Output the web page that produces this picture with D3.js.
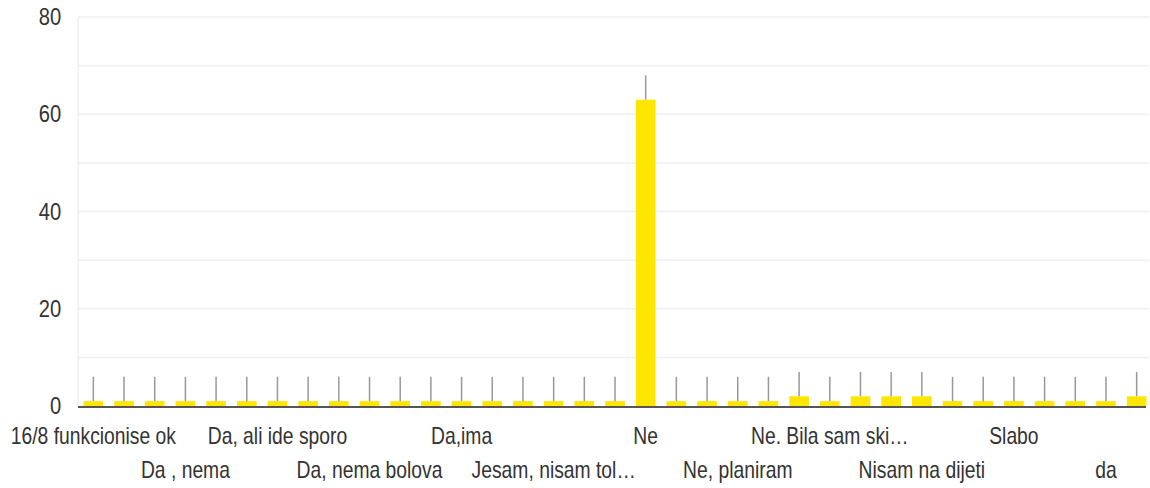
<!DOCTYPE html>
<html>
<head>
<meta charset="utf-8">
<script src="https://cdn.jsdelivr.net/npm/d3@7"></script>
<style>
  body { margin: 0; background: #fff; }
  text { font-family: "Liberation Sans", Arial, sans-serif; fill: #333; }
</style>
</head>
<body>
<div id="chart"></div>
<script>
// answers (sorted), only every 3rd one gets a label
const categories = [
  "16/8 funkcionise ok", "Bez promjene", "Da", "Da , nema", "Da, ali bez promjena",
  "Da, ali ide polako", "Da, ali ide sporo", "Da, bolje se osjecam", "Da, manje gladi",
  "Da, nema bolova", "Da, osjecam se bolje", "Da, smrsala sam", "Da,ima", "Djelimicno",
  "Imam", "Jesam, nisam tol…", "Jos ne znam", "Malo", "Ne", "Ne jos", "Ne znam",
  "Ne, planiram", "Ne, pocinjem", "Ne, tek sam pocela", "Ne. Bila sam ski…", "Nema",
  "Nisam", "Nisam na dijeti", "Nisam sigurna", "Polako", "Slabo", "Vidjet cemo",
  "Zadovoljna sam", "da", "ne"
];
const counts = [
  1, 1, 1, 1, 1, 1, 1, 1, 1, 1, 1, 1, 1, 1, 1, 1, 1, 1,
  63, 1, 1, 1, 1, 2, 1, 2, 2, 2, 1, 1, 1, 1, 1, 1, 2
];
const errors = [
  5, 5, 5, 5, 5, 5, 5, 5, 5, 5, 5, 5, 5, 5, 5, 5, 5, 5,
  5, 5, 5, 5, 5, 5, 5, 5, 5, 5, 5, 5, 5, 5, 5, 5, 5
];
const yTicks = [0, 20, 40, 60, 80];
const gridTicks = [10, 20, 30, 40, 50, 60, 70, 80];

const w = 1150, h = 488;
const padL = 78, padR = 1152, padT = 17, padB = 406;
const squeeze = 0.84; // text in the picture is narrow

const svg = d3.select("#chart").append("svg")
  .attr("width", w)
  .attr("height", h);

const x = d3.scaleBand()
  .domain(categories)
  .range([padL, padR])
  .paddingInner(0.36)
  .paddingOuter(0.18);

const y = d3.scaleLinear()
  .domain([0, 80])
  .range([padB, padT]);

// grid
svg.append("g")
  .selectAll("line")
  .data(gridTicks)
  .enter()
  .append("line")
  .attr("x1", padL)
  .attr("x2", 1149)
  .attr("y1", d => y(d))
  .attr("y2", d => y(d))
  .attr("stroke", "#efefef")
  .attr("stroke-width", 1.5);

svg.append("line")
  .attr("x1", padL).attr("x2", padL)
  .attr("y1", padT).attr("y2", padB)
  .attr("stroke", "#efefef")
  .attr("stroke-width", 1.5);

// y axis labels
const yAxis = d3.axisLeft(y).tickValues(yTicks).tickSize(0).tickPadding(20);
svg.append("g")
  .attr("transform", `translate(${padL}, 0)`)
  .call(yAxis)
  .call(g => g.select(".domain").remove())
  .call(g => g.selectAll("text")
    .attr("font-size", 24)
    .attr("fill", "#444")
    .attr("transform", `scale(${squeeze},1)`));

// bars
svg.selectAll("rect.bar")
  .data(categories)
  .enter()
  .append("rect")
  .attr("class", "bar")
  .attr("x", d => x(d))
  .attr("width", x.bandwidth())
  .attr("y", (d, i) => y(counts[i]))
  .attr("height", (d, i) => padB - y(counts[i]))
  .attr("fill", "#ffe600");

// whiskers
svg.selectAll("line.err")
  .data(categories)
  .enter()
  .append("line")
  .attr("class", "err")
  .attr("x1", d => x(d) + x.bandwidth() / 2)
  .attr("x2", d => x(d) + x.bandwidth() / 2)
  .attr("y1", (d, i) => y(counts[i]))
  .attr("y2", (d, i) => y(counts[i] + errors[i]))
  .attr("stroke", "#999")
  .attr("stroke-width", 1.5);

// baseline
svg.append("line")
  .attr("x1", padL).attr("x2", 1146)
  .attr("y1", padB + 1).attr("y2", padB + 1)
  .attr("stroke", "#555")
  .attr("stroke-width", 2);

// x labels, every 3rd, alternating rows
const xAxis = d3.axisBottom(x)
  .tickValues(categories.filter((d, i) => i % 3 === 0))
  .tickSize(0);
svg.append("g")
  .attr("transform", `translate(0, ${padB})`)
  .call(xAxis)
  .call(g => g.select(".domain").remove())
  .call(g => g.selectAll("text")
    .attr("font-size", 23)
    .attr("dy", null)
    .attr("y", (d, i) => i % 2 === 0 ? 38 : 72)
    .attr("fill", "#333")
    .attr("transform", `scale(${squeeze},1)`));
</script>
</body>
</html>
